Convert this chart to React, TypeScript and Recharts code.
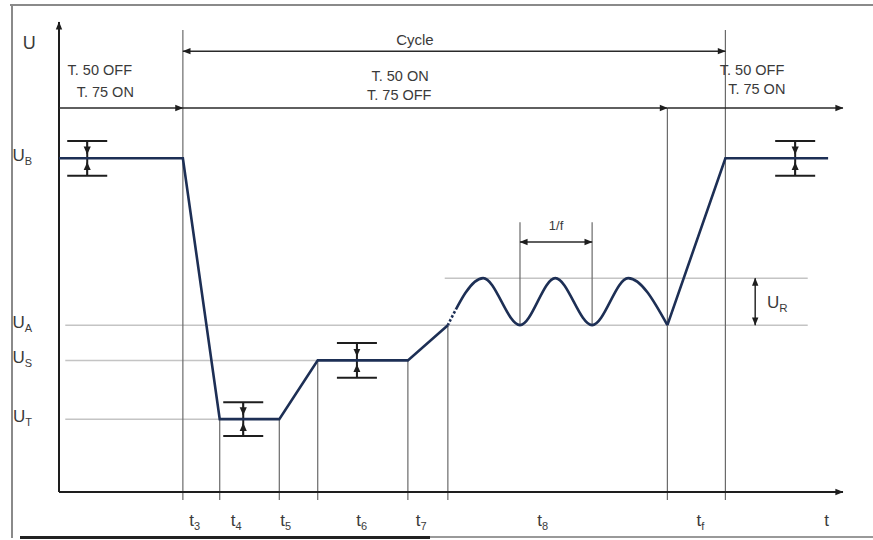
import React from 'react';
import { ComposedChart, Line, Scatter, ErrorBar, XAxis, YAxis, ReferenceLine, ReferenceDot } from 'recharts';

// starting profile (t and U as % of axis length)
const profileTime = [0, 15.8, 20.5, 28.1, 33, 44.5, 49.6];
const profileU = [71, 71, 15.5, 15.5, 28, 28, 35.5];
const rippleTime = [49.6, 54.1, 58.8, 63.3, 68, 72.6, 77.6];
const rippleU = [35.5, 45.5, 35.5, 45.5, 35.5, 45.5, 35.5];
const recoveryTime = [77.6, 85, 98.1];
const recoveryU = [35.5, 71, 71];

const levelNames = ['B', 'A', 'S', 'T'];
const levelValues = [71, 35.5, 28, 15.5];
const rippleTop = 45.5;

// phase boundaries t3 ... tf and where their guide starts
const phaseTimes = [15.8, 20.5, 28.1, 33, 44.5, 49.6, 77.6, 85];
const phaseFrom = [98.3, 15.5, 15.5, 28, 28, 35.5, 81.7, 98.3];

const tickTimes = [17.3, 22.6, 28.9, 38.6, 46.2, 61.7, 81.8, 97.9];
const tickNames = ['3', '4', '5', '6', '7', '8', 'f', ''];

// tolerance markers
const tolTime = [3.6, 93.9, 23.5, 38];
const tolU = [71, 71, 15.5, 28];
const tolSpan = [3.7, 3.7, 3.6, 3.7];

const stateTexts = ['T. 50 OFF', 'T. 75 ON', 'T. 50 ON', 'T. 75 OFF', 'T. 50 OFF', 'T. 75 ON'];
const stateLevel = 81.7;
const cycleLevel = 93.8;

const FONT = '"Liberation Sans", Arial, sans-serif';
const INK = '#3a3a3a';

const profileData = profileTime.map((t, i) => ({ t, u: profileU[i] }));
const rippleData = rippleTime.map((t, i) => ({ t, u: rippleU[i] }));
const recoveryData = recoveryTime.map((t, i) => ({ t, u: recoveryU[i] }));
const tolData = tolTime.map((t, i) => ({ t, u: tolU[i], e: tolSpan[i] }));

type NoteProps = { viewBox?: { x: number; y: number }; text: string; sub?: string; size?: number; anchor?: string };

function Note({ viewBox, text, sub, size = 15, anchor = 'middle' }: NoteProps) {
  if (!viewBox) return null;
  return (
    <text x={viewBox.x} y={viewBox.y} dy="0.35em" textAnchor={anchor} fontSize={size} fill={INK} fontFamily={FONT}>
      {text}
      {sub ? <tspan fontSize={size * 0.68} dy={size * 0.28}>{sub}</tspan> : null}
    </text>
  );
}

const note = (key: string, x: number, y: number, label: React.ReactElement) => (
  <ReferenceDot key={key} x={x} y={y} r={0} fill="none" stroke="none" ifOverflow="visible" label={label} />
);

const seg = (key: string, x1: number, y1: number, x2: number, y2: number, style: any) => (
  <ReferenceLine key={key} segment={[{ x: x1, y: y1 }, { x: x2, y: y2 }]} ifOverflow="visible" {...style} />
);

const guide = { stroke: '#6a6a6a', strokeWidth: 1.2 };
const level = { stroke: '#c4c4c4', strokeWidth: 1.5 };
const arrowBoth = { stroke: '#2a2a2a', strokeWidth: 1.5, markerStart: 'url(#arr)', markerEnd: 'url(#arr)' };
const arrowEnd = { stroke: '#2a2a2a', strokeWidth: 1.5, markerEnd: 'url(#arr)' };
const tolArrow = { stroke: '#1e1e1e', strokeWidth: 1.5, markerEnd: 'url(#arrS)' };

const YTick = ({ x, y, payload }: any) => {
  const i = levelValues.indexOf(payload.value);
  return (
    <text x={x} y={y - 3} dy="0.35em" textAnchor="end" fontSize={17} fill={INK} fontFamily={FONT}>
      U<tspan fontSize={11} dy={4}>{levelNames[i]}</tspan>
    </text>
  );
};

const XTick = ({ x, y, payload }: any) => {
  const i = tickTimes.indexOf(payload.value);
  return (
    <text x={x} y={y} textAnchor="middle" fontSize={17} fill={INK} fontFamily={FONT}>
      t<tspan fontSize={11} dy={4}>{tickNames[i]}</tspan>
    </text>
  );
};

export default function App() {
  return (
    <div style={{ position: 'absolute', left: 0, top: 0, width: 873, height: 540, background: '#fff' }}>
      <div style={{ position: 'absolute', left: 10, top: 4, width: 863, height: 2, background: '#8a8a8a' }} />
      <div style={{ position: 'absolute', left: 11, top: 4, width: 2, height: 534, background: '#8a8a8a' }} />
      <div style={{ position: 'absolute', left: 20, top: 536, width: 410, height: 3, background: '#222' }} />
      <div style={{ position: 'absolute', left: 430, top: 536, width: 443, height: 2, background: '#999' }} />
      <div style={{ position: 'absolute', left: 0, top: 0 }}>
        <ComposedChart width={873} height={540} margin={{ top: 22, right: 30, bottom: 0, left: 0 }}>
          <defs>
            <marker id="arr" viewBox="0 0 10 10" refX="9.5" refY="5" markerWidth="9" markerHeight="8"
              markerUnits="userSpaceOnUse" orient="auto-start-reverse">
              <path d="M0,1 L10,5 L0,9 z" fill="#1e1e1e" />
            </marker>
            <marker id="arrS" viewBox="0 0 10 10" refX="9.5" refY="5" markerWidth="8" markerHeight="9"
              markerUnits="userSpaceOnUse" orient="auto-start-reverse">
              <path d="M0,0.5 L10,5 L0,9.5 z" fill="#1e1e1e" />
            </marker>
          </defs>
          <XAxis dataKey="t" type="number" domain={[0, 100]} allowDataOverflow ticks={tickTimes} interval={0}
            height={48} axisLine={false} tickLine={false} tickSize={0} tickMargin={34} tick={<XTick />} />
          <YAxis type="number" domain={[0, 100]} allowDataOverflow ticks={levelValues} interval={0}
            width={59} axisLine={false} tickLine={false} tickSize={0} tickMargin={27} tick={<YTick />} />

          {/* light level lines */}
          {seg('lA', 0.8, levelValues[1], 95.5, levelValues[1], level)}
          {seg('lS', 0.8, levelValues[2], phaseTimes[3], levelValues[2], level)}
          {seg('lT', 0.8, levelValues[3], phaseTimes[1], levelValues[3], level)}
          {seg('lR', 49.2, rippleTop, 95.5, rippleTop, level)}

          {/* phase guides */}
          {phaseTimes.map((t, i) => seg('g' + i, t, phaseFrom[i], t, -1.7, guide))}

          {/* axes */}
          {seg('ax', 0, 0, 100, 0, { stroke: '#1e1e1e', strokeWidth: 2, markerEnd: 'url(#arr)' })}
          {seg('ay', 0, 0, 0, 100, { stroke: '#1e1e1e', strokeWidth: 2, markerEnd: 'url(#arr)' })}

          {/* cycle and terminal state arrows */}
          {seg('cyc', phaseTimes[0], cycleLevel, phaseTimes[7], cycleLevel, arrowBoth)}
          {seg('s1', 0, stateLevel, phaseTimes[0], stateLevel, arrowEnd)}
          {seg('s2', phaseTimes[0], stateLevel, phaseTimes[6], stateLevel, arrowEnd)}
          {seg('s3', phaseTimes[6], stateLevel, 100, stateLevel, arrowEnd)}

          {/* ripple period and amplitude */}
          {seg('p1', rippleTime[2], rippleU[2], rippleTime[2], 57.4, guide)}
          {seg('p2', rippleTime[4], rippleU[4], rippleTime[4], 57.4, guide)}
          {seg('pa', rippleTime[2], 53.2, rippleTime[4], 53.2, arrowBoth)}
          {seg('ur', 88.8, rippleTop, 88.8, levelValues[1], arrowBoth)}

          {/* tolerance arrows, pointing from the caps towards the level */}
          {tolTime.map((t, i) => seg('tu' + i, t, tolU[i] + tolSpan[i], t, tolU[i] + 0.9, tolArrow))}
          {tolTime.map((t, i) => seg('td' + i, t, tolU[i] - tolSpan[i], t, tolU[i] - 0.9, tolArrow))}

          <Scatter data={tolData} dataKey="u" shape={() => <g />} isAnimationActive={false}>
            <ErrorBar dataKey="e" direction="y" width={20} stroke="#1e1e1e" strokeWidth={2} isAnimationActive={false} />
          </Scatter>

          <Line data={profileData} dataKey="u" type="linear" stroke="#1d2f55" strokeWidth={2.6} dot={false} isAnimationActive={false} />
          <Line data={rippleData} dataKey="u" type="monotone" stroke="#1d2f55" strokeWidth={2.6} dot={false} isAnimationActive={false} />
          <Line data={recoveryData} dataKey="u" type="linear" stroke="#1d2f55" strokeWidth={2.6} dot={false} isAnimationActive={false} />

          {/* dotted joint where the ripple starts */}
          <ReferenceLine segment={[{ x: 49.7, y: 35.9 }, { x: 50.7, y: 38.9 }]} ifOverflow="visible" isFront
            stroke="#fff" strokeWidth={3.5} strokeDasharray="2 2.5" />

          {/* texts */}
          {note('U', -3.8, 95.7, <Note text="U" size={18} />)}
          {note('cycle', 45.4, 96.2, <Note text="Cycle" size={15} />)}
          {note('st0', 5.2, 89.8, <Note text={stateTexts[0]} size={14.5} />)}
          {note('st1', 5.9, 85.1, <Note text={stateTexts[1]} size={14.5} />)}
          {note('st2', 43.5, 88.5, <Note text={stateTexts[2]} size={14.5} />)}
          {note('st3', 43.4, 84.4, <Note text={stateTexts[3]} size={14.5} />)}
          {note('st4', 88.4, 89.8, <Note text={stateTexts[4]} size={14.5} />)}
          {note('st5', 89, 85.7, <Note text={stateTexts[5]} size={14.5} />)}
          {note('f', 63.4, 56.8, <Note text="1/f" size={13} />)}
          {note('UR', 90.3, 40.5, <Note text="U" sub="R" size={17} anchor="start" />)}
        </ComposedChart>
      </div>
    </div>
  );
}
